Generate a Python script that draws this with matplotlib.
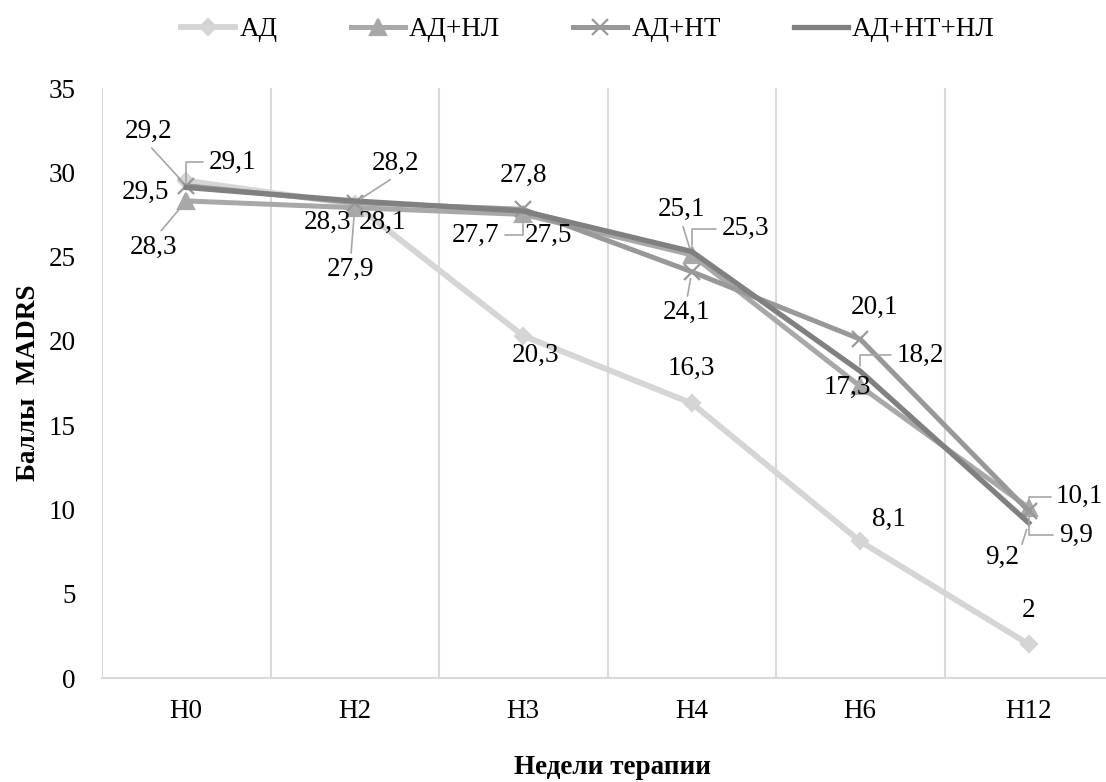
import matplotlib
matplotlib.use("Agg")
import matplotlib.pyplot as plt

plt.rcParams['font.family'] = 'serif'
plt.rcParams['font.serif'] = ['Liberation Serif', 'DejaVu Serif']
FONT = 'Liberation Serif'

# данные графика
weeks = ['Н0', 'Н2', 'Н3', 'Н4', 'Н6', 'Н12']
ad = [29.5, 28.1, 20.3, 16.3, 8.1, 2]
ad_nl = [28.3, 27.9, 27.5, 25.1, 17.3, 10.1]
ad_nt = [29.2, 28.2, 27.8, 24.1, 20.1, 9.9]
ad_nt_nl = [29.1, 28.3, 27.7, 25.3, 18.2, 9.2]
names = ['АД', 'АД+НЛ', 'АД+НТ', 'АД+НТ+НЛ']

series = [ad, ad_nl, ad_nt, ad_nt_nl]
colors = ['#d5d5d5', '#a8a8a8', '#989898', '#808080']
markers = ['D', '^', 'x', None]
msizes = [8, 11, 12, 0]
lwidths = [4.2, 3.6, 3.6, 3.8]

# положение подписей: (dx, dy) в пикселях, тип выноски, точка привязки выноски на тексте
label_style = [
    [(-41, -12, None, None), (28, -18, None, None), (12, -20, None, None),
     (0, 35, None, None), (29, 22, None, None), (0, 34, None, None)],
    [(-33, -46, 'line', (0.6, 1)), (-4, -62, 'line', (0.5, 1)), (25, -21, None, None),
     (-10, 45, 'line', (0.5, 0)), (-13, -1, None, None), (51, 11, 'bracket', (0, 0.5))],
    [(-38, 54, 'line', (0.5, 0)), (41, 39, 'line', (0.5, 0)), (0, 34, None, None),
     (-5, -41, 'line', (0.5, 1)), (14, 32, None, None), (47, -24, 'bracket', (0, 0.5))],
    [(46, 25, 'bracket', (0, 0.5)), (-27, -21, None, None), (-48, -24, 'bracket', (1, 0.5)),
     (54, 23, 'bracket', (0, 0.5)), (60, 16, 'bracket', (0, 0.5)), (-27, -34, 'line', (1, 0.6))],
]

fig = plt.figure(figsize=(11.06, 7.82), dpi=100)
ax = fig.add_axes([102 / 1106, 104 / 782, 1011 / 1106, 590 / 782])

x = list(range(len(weeks)))
for vals, name, c, m, ms, lw in zip(series, names, colors, markers, msizes, lwidths):
    ax.plot(x, vals, color=c, lw=lw, marker=m, markersize=ms, mew=1.6,
            markerfacecolor=c, markeredgecolor=c, label=name, solid_joinstyle='round',
            zorder=3)

for vals, styles in zip(series, label_style):
    for xi, v, (dx, dy, kind, rp) in zip(x, vals, styles):
        txt = ('%.1f' % v).replace('.', ',') if v != int(v) else '%d' % v
        arrow = None
        if kind == 'line':
            arrow = dict(arrowstyle='-', color='#a6a6a6', lw=1.2, relpos=rp,
                         shrinkA=1, shrinkB=5)
        elif kind == 'bracket':
            arrow = dict(arrowstyle='-', color='#a6a6a6', lw=1.2, relpos=rp,
                         shrinkA=2, shrinkB=4,
                         connectionstyle='angle,angleA=0,angleB=90,rad=0')
        ax.annotate(txt, (xi, v), xytext=(dx, dy), textcoords='offset pixels',
                    ha='center', va='center', fontsize=19.5, color='black',
                    family=FONT, arrowprops=arrow, zorder=5)

ax.set_xlim(-0.5, 5.5)
ax.set_ylim(0, 35)
ax.set_yticks(range(0, 36, 5))
ax.set_xticks(x)
ax.set_xticklabels(weeks)
ax.set_xticks([i - 0.5 for i in range(6)], minor=True)
ax.grid(True, axis='x', which='minor', color='#d9d9d9', lw=1.5)
ax.grid(False, axis='y')
ax.tick_params(axis='both', which='both', length=0, labelsize=19.5)
ax.tick_params(axis='y', pad=19)
ax.tick_params(axis='x', pad=15)
for lab in ax.get_xticklabels() + ax.get_yticklabels():
    lab.set_family(FONT)
for side in ['left', 'right', 'top']:
    ax.spines[side].set_visible(False)
ax.spines['bottom'].set_color('#d9d9d9')
ax.spines['bottom'].set_linewidth(1.5)

ax.set_ylabel('Баллы  MADRS', fontsize=19.5, fontweight='bold', family=FONT)
ax.yaxis.set_label_coords(-61 / 1011, 0.5)
fig.text(612 / 1106, 1 - 768 / 782, 'Недели терапии', fontsize=19.5,
         fontweight='bold', ha='center', va='center', family=FONT)

fig.legend(loc='center', bbox_to_anchor=(588 / 1106, 1 - 30 / 782), ncol=4,
           frameon=False, prop={'family': FONT, 'size': 19.5}, handlelength=2.0,
           handletextpad=0.15, columnspacing=2.7)

fig.savefig('out.png', dpi=100)
